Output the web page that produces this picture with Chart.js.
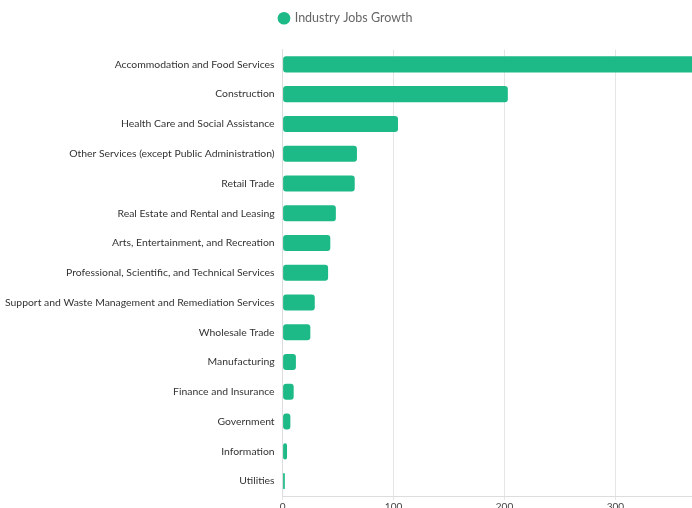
<!DOCTYPE html>
<html>
<head>
<meta charset="utf-8">
<script src="https://cdn.jsdelivr.net/npm/chart.js@4.4.1/dist/chart.umd.min.js"></script>
<style>
  html, body { margin: 0; padding: 0; background: #fff; overflow: hidden; }
  #wrap { width: 692px; height: 514px; position: relative; }
</style>
</head>
<body>
<div id="wrap"><canvas id="chart"></canvas></div>
<script>
  // Industry jobs growth, sorted by value
  const industries = [
    'Accommodation and Food Services',
    'Construction',
    'Health Care and Social Assistance',
    'Other Services (except Public Administration)',
    'Retail Trade',
    'Real Estate and Rental and Leasing',
    'Arts, Entertainment, and Recreation',
    'Professional, Scientific, and Technical Services',
    'Support and Waste Management and Remediation Services',
    'Wholesale Trade',
    'Manufacturing',
    'Finance and Insurance',
    'Government',
    'Information',
    'Utilities',
  ];
  const jobsGrowth = [378, 203, 104, 67, 65, 48, 43, 41, 29, 25, 12, 10, 7, 4, 2];
  const xTicks = [0, 100, 200, 300];

  const BAR_COLOR = '#1dba88';

  Chart.defaults.font.family = 'Lato, "Open Sans", sans-serif';

  // a bit of room between legend and plot
  const legendGap = {
    id: 'legendGap',
    beforeInit(chart) {
      const fit = chart.legend.fit;
      chart.legend.fit = function () {
        fit.bind(chart.legend)();
        this.height += 15;
      };
    },
  };

  new Chart(document.getElementById('chart'), {
    type: 'bar',
    data: {
      labels: industries,
      datasets: [{
        label: 'Industry Jobs Growth',
        data: jobsGrowth,
        backgroundColor: BAR_COLOR,
        borderColor: BAR_COLOR,
        borderWidth: 0,
        borderRadius: 3,
        borderSkipped: false,
        categoryPercentage: 0.6,
        barPercentage: 0.9,
      }],
    },
    plugins: [legendGap],
    options: {
      indexAxis: 'y',
      responsive: true,
      maintainAspectRatio: false,
      animation: false,
      layout: { padding: { left: 0, right: 0, top: 2, bottom: 0 } },
      plugins: {
        legend: {
          display: true,
          position: 'top',
          labels: {
            usePointStyle: true,
            pointStyle: 'circle',
            boxWidth: 9,
            boxHeight: 9,
            padding: 10,
            color: '#666',
            font: { size: 12.5 },
          },
        },
        tooltip: { enabled: false },
      },
      scales: {
        x: {
          min: 0,
          max: 369,
          afterBuildTicks: (s) => {
            s.ticks = xTicks.map((v) => ({ value: v }));
          },
          grid: { color: '#e5e5e5', drawTicks: true, tickLength: 4 },
          border: { color: '#ddd' },
          ticks: { color: '#444', font: { size: 10 }, padding: 1, maxRotation: 0 },
        },
        y: {
          afterFit: (s) => { s.width -= 3; },
          grid: { display: false, drawTicks: false, tickLength: 0 },
          border: { color: '#ddd' },
          ticks: { color: '#333', font: { size: 10.4 }, padding: 8, autoSkip: false },
        },
      },
    },
  });
</script>
</body>
</html>
